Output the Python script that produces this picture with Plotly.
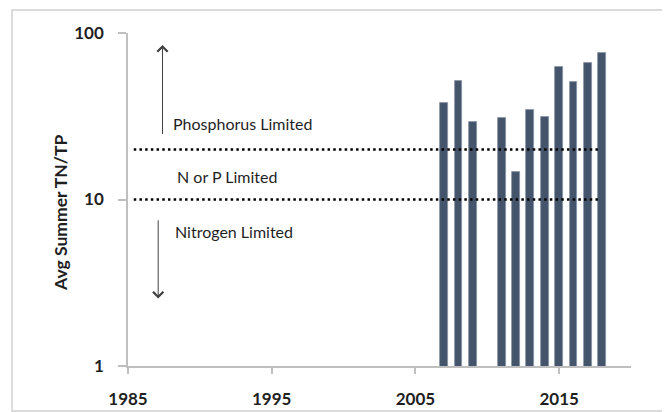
import plotly.graph_objects as go
import math

years = [2007, 2008, 2009, 2011, 2012, 2013, 2014, 2015, 2016, 2017, 2018]
tn_tp = [38.0, 51.5, 29.3, 30.9, 14.7, 34.3, 31.3, 62.8, 51.0, 66.3, 75.4]

threshold_values = [20, 10]
threshold_x = [1985.4, 2017.8]

x_ticks = [1985, 1995, 2005, 2015]
y_ticks = [1, 10, 100]

region_labels = ["Phosphorus Limited", "N or P Limited", "Nitrogen Limited"]
region_label_x = [1988.0, 1988.3, 1988.1]
region_label_y = [28.7, 13.8, 6.43]

# arrows: (x, head value, tail value)
arrow_x = [1987.4, 1987.1]
arrow_head = [84.7, 2.54]
arrow_tail = [24.2, 7.66]

bar_color = "#44546A"
text_color = "#1F1F1F"
axis_color = "#BFBFBF"
font_family = "Lato, 'Open Sans', Arial, sans-serif"

fig = go.Figure()

fig.add_trace(go.Bar(
    x=years, y=tn_tp, width=0.55,
    marker=dict(color=bar_color, line=dict(color="#8791A3", width=0.8)),
    showlegend=False, hoverinfo="x+y",
))

for v in threshold_values:
    fig.add_trace(go.Scatter(
        x=threshold_x, y=[v, v], mode="lines",
        line=dict(color="#000000", width=2.5, dash="2.5px,3.2px"),
        showlegend=False, hoverinfo="skip",
    ))

annotations = []
for txt, xv, yv in zip(region_labels, region_label_x, region_label_y):
    annotations.append(dict(
        x=xv, y=math.log10(yv), xref="x", yref="y", text=txt,
        showarrow=False, xanchor="left", yanchor="middle",
        font=dict(family=font_family, size=16, color=text_color),
    ))

for xv, hv, tv in zip(arrow_x, arrow_head, arrow_tail):
    annotations.append(dict(
        x=xv, y=math.log10(hv), ax=xv, ay=math.log10(tv),
        xref="x", yref="y", axref="x", ayref="y", text="",
        showarrow=True, arrowhead=4, arrowsize=2, arrowwidth=1,
        arrowcolor="#404040",
    ))

annotations.append(dict(
    x=-0.133, y=0.46, xref="paper", yref="paper", text="<b>Avg Summer TN/TP</b>",
    textangle=-90, showarrow=False, xanchor="center", yanchor="middle",
    font=dict(family=font_family, size=17.5, color=text_color),
))

fig.update_layout(
    width=670, height=412,
    margin=dict(l=120, r=47, t=25, b=54),
    paper_bgcolor="white", plot_bgcolor="white",
    bargap=0,
    annotations=annotations,
    shapes=[dict(
        type="rect", xref="paper", yref="paper",
        x0=-0.2306, x1=1.0716, y0=-0.135, y1=1.069,
        line=dict(color="#D0D0D0", width=1.5), fillcolor="rgba(0,0,0,0)", layer="below",
    )],
    xaxis=dict(
        range=[1985, 2020], tickvals=x_ticks,
        ticktext=[f"<b>{t}</b>" for t in x_ticks],
        showgrid=False, zeroline=False,
        showline=True, linecolor=axis_color, linewidth=1.5,
        ticks="outside", ticklen=6, tickcolor=axis_color, tickwidth=1.5,
        tickfont=dict(family=font_family, size=17, color=text_color),
        ticklabelstandoff=11,
    ),
    yaxis=dict(
        type="log", range=[0, 2], tickvals=y_ticks,
        ticktext=[f"<b>{t}</b>" for t in y_ticks],
        showgrid=False, zeroline=False,
        showline=True, linecolor=axis_color, linewidth=1.5,
        ticks="outside", ticklen=8, tickcolor=axis_color, tickwidth=1.5,
        tickfont=dict(family=font_family, size=17, color=text_color),
        ticklabelstandoff=11,
    ),
)

fig.write_html("out.html")
